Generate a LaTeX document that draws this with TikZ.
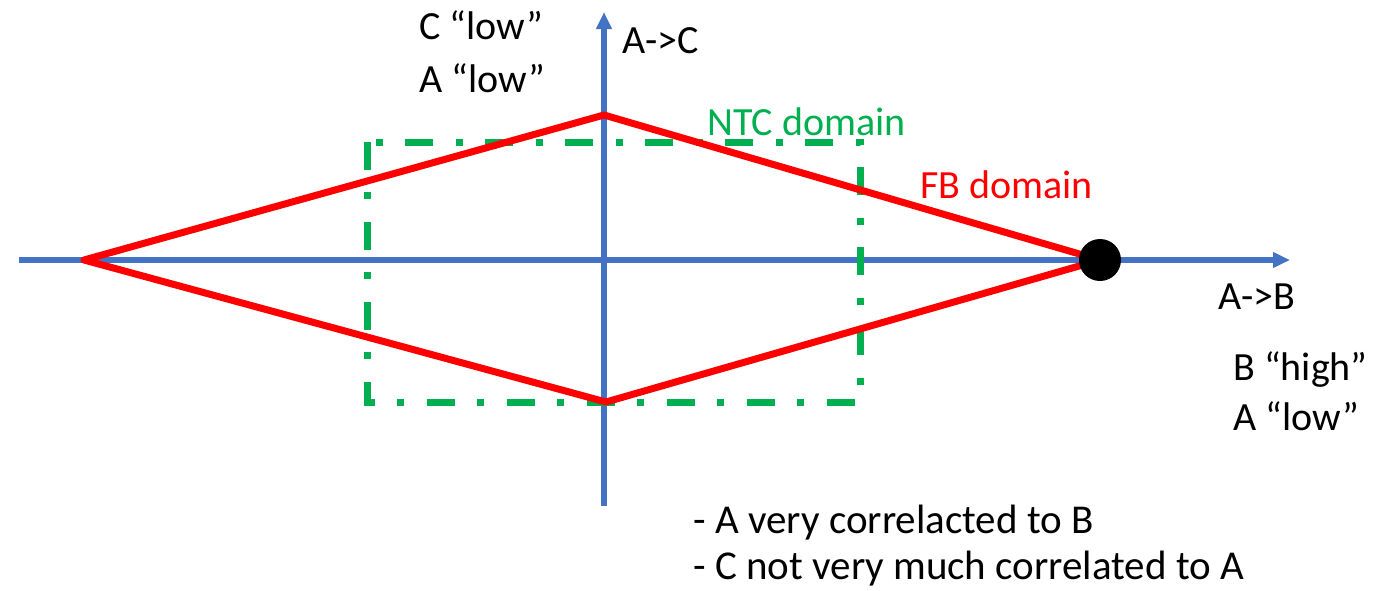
\documentclass[tikz,border=0pt]{standalone}
\usepackage{fontspec}
\setmainfont{Carlito}
\usepackage{xcolor}
\usetikzlibrary{arrows.meta}

\definecolor{axisblue}{HTML}{4472C4}
\definecolor{fbred}{HTML}{FF0000}
\definecolor{ntcgreen}{HTML}{00B050}

\begin{document}
\begin{tikzpicture}[
  x=0.5pt, y=-0.5pt,
  >={Triangle[length=8.5pt,width=7.5pt]},
  line join=miter,
  axis/.style={->, axisblue, line width=3pt},
  fbline/.style={fbred, line width=3.5pt, line join=round},
  ntcbox/.style={ntcgreen, line width=3.5pt,
    dash pattern=on 14pt off 11pt on 3.5pt off 11.5pt},
  every node/.style={font=\fontsize{20}{24}\selectfont, inner sep=0pt, anchor=base west},
  note/.style={font=\fontsize{20.5}{24}\selectfont}
]
  \useasboundingbox (0,0) rectangle (1389,590);

  % Axes
  \coordinate (xl) at (19,260);
  \coordinate (xr) at (1290,260);
  \coordinate (yb) at (604,506);
  \coordinate (yt) at (604,12);

  % FB domain corners
  \coordinate (fbL) at (84,260);
  \coordinate (fbT) at (604,115);
  \coordinate (fbR) at (1100,260);
  \coordinate (fbB) at (606,402);

  % NTC domain corners
  \coordinate (ntcTL) at (367,142);
  \coordinate (ntcBR) at (860,402);

  % Axes drawn first
  \draw[axis] (xl) -- (xr);
  \draw[axis] (yb) -- (yt);

  % NTC domain (dash-dot)
  \draw[ntcbox] (ntcTL) rectangle (ntcBR);

  % FB domain (red diamond)
  \draw[fbline] (fbL) -- (fbT) -- (fbR) -- (fbB) -- cycle;

  % Point on A->B axis
  \fill[black] (fbR) circle (10.5pt);

  % Labels
  \node (clow)  at (419,39)  {C “low”};
  \node (alowl) at (419,92)  {A “low”};
  \node (ac)    at (622,53)  {A->C};
  \node[text=ntcgreen] (ntc) at (707,135) {NTC domain};
  \node[text=fbred]    (fb)  at (920,198) {FB domain};
  \node (ab)    at (1218,309) {A->B};
  \node (bhigh) at (1233,380) {B “high”};
  \node (alowr) at (1233,430) {A “low”};
  \node[note] (note1) at (693,533) {- A very correlacted to B};
  \node[note] (note2) at (693,579) {- C not very much correlated to A};
\end{tikzpicture}
\end{document}
